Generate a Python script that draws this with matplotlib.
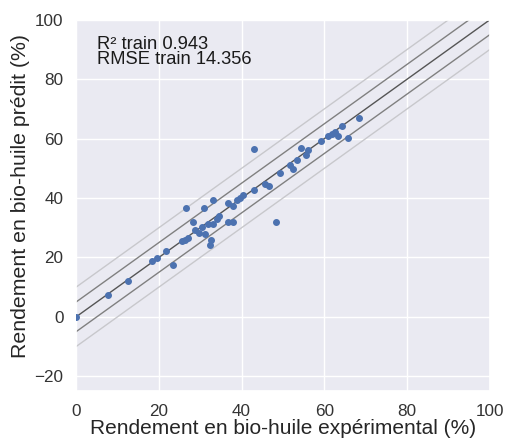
import matplotlib
matplotlib.use("Agg")
import matplotlib.pyplot as plt
import seaborn as sns
import numpy as np

# experimental vs predicted bio-oil yield (%)
y_exp = [0.0, 7.7, 12.6, 18.4, 19.6, 21.7, 23.4, 25.6, 26.3, 27.1,
         26.6, 28.3, 28.7, 29.7, 30.4, 31.2, 31.9, 32.6, 32.4, 33.1,
         34.1, 34.5, 30.9, 33.1, 36.7, 37.9, 38.9, 36.7, 37.9, 39.6,
         40.3, 43.0, 43.0, 45.7, 46.6, 48.3, 49.3, 51.7, 52.4, 53.4,
         54.3, 55.6, 56.0, 59.2, 60.9, 61.8, 62.6, 63.3, 64.3, 65.7, 68.4]
y_pred = [0.0, 7.4, 12.2, 18.9, 19.9, 22.3, 17.6, 25.7, 26.0, 26.4,
          36.5, 32.1, 29.1, 28.4, 30.4, 28.0, 31.4, 26.0, 24.3, 31.4,
          33.1, 33.8, 36.8, 39.5, 38.5, 37.2, 39.2, 32.1, 31.8, 39.9,
          40.9, 42.6, 56.4, 44.6, 43.9, 32.1, 48.3, 51.0, 49.7, 52.7,
          56.8, 54.4, 56.1, 59.1, 60.8, 61.5, 62.2, 60.8, 64.2, 60.1, 66.9]
r2_train = 0.943
rmse_train = 14.356

sns.set_theme(style="darkgrid")
plt.rcParams['font.family'] = ['Liberation Sans', 'DejaVu Sans']

fig = plt.figure(figsize=(5.07, 4.41), dpi=100)
ax = fig.add_axes([0.15, 0.113, 0.816, 0.842])

xs = np.array([0, 100])
ax.plot(xs, xs, color="#555555", lw=1.0)
ax.plot(xs, xs + 5, color="#808080", lw=1.0)
ax.plot(xs, xs - 5, color="#808080", lw=1.0)
ax.plot(xs, xs + 10, color="#c8c8cc", lw=1.0)
ax.plot(xs, xs - 10, color="#c8c8cc", lw=1.0)

ax.scatter(y_exp, y_pred, s=16, color="#4C72B0", zorder=3, clip_on=True)

ax.text(5, 94.5, f"R² train {r2_train}\nRMSE train {rmse_train}",
        fontsize=13.2, va="top", ha="left", linespacing=0.82, color="#1a1a1a")

ax.set_xlim(0, 100)
ax.set_ylim(-25, 100)
ax.set_xticks([0, 20, 40, 60, 80, 100])
ax.set_yticks([-20, 0, 20, 40, 60, 80, 100])
ax.tick_params(labelsize=12.3, pad=3, labelcolor="#333333")
ax.set_xlabel("Rendement en bio-huile expérimental (%)", fontsize=15, labelpad=0)
ax.set_ylabel("Rendement en bio-huile prédit (%)", fontsize=15.3)
ax.yaxis.set_label_coords(-0.112, 0.525)

fig.savefig("out.png", dpi=100)
